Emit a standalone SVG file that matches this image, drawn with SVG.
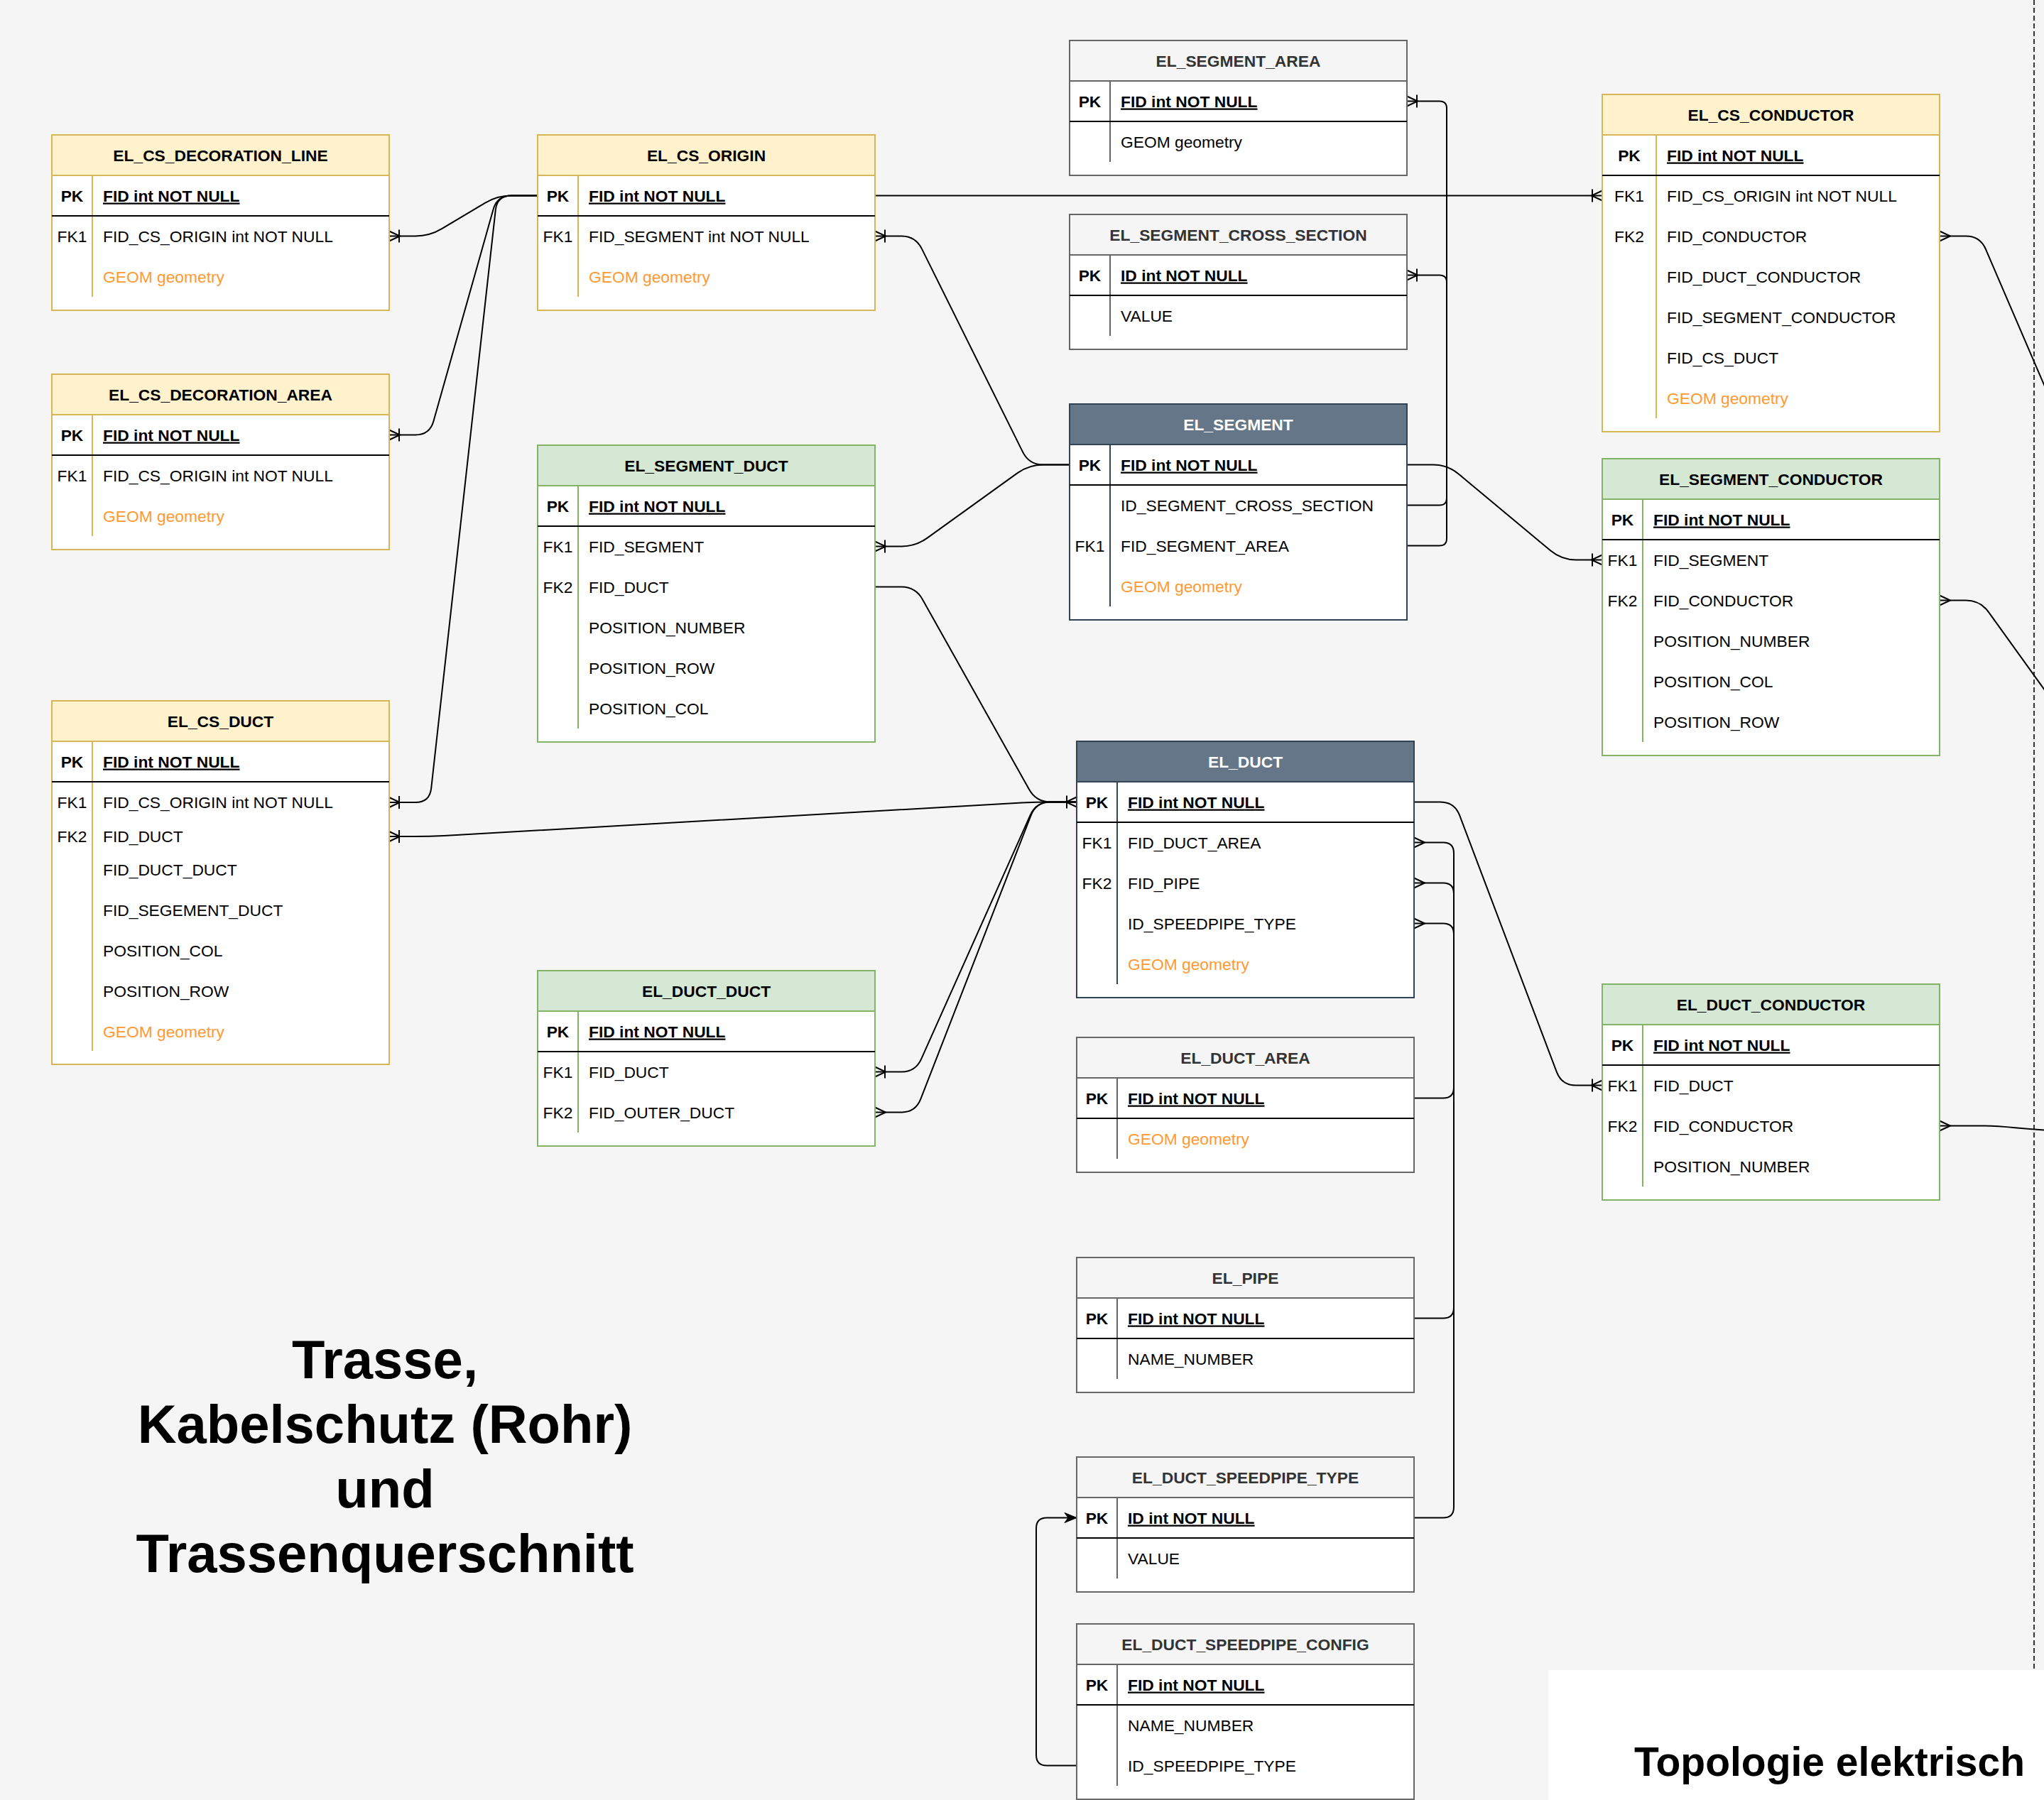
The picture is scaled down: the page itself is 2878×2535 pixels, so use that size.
<svg xmlns="http://www.w3.org/2000/svg" width="2878" height="2535" viewBox="0 0 2878 2535">
<defs>
<style>
text{font-family:"Liberation Sans",Arial,Helvetica,sans-serif;font-size:22.8px;fill:#000}
.frame{fill:#fff;stroke-width:2}
.hd{stroke-width:2}
.dv{stroke-width:2}
.sep{stroke:#000;stroke-width:2}
.y .frame,.y .hd,.y .dv{stroke:#d6b656}.y .hd{fill:#fff2cc}
.g .frame,.g .hd,.g .dv{stroke:#82b366}.g .hd{fill:#d5e8d4}
.s .frame,.s .hd,.s .dv{stroke:#666}.s .hd{fill:#f5f5f5}.s .tt{fill:#333}
.d .frame,.d .hd,.d .dv{stroke:#314354}.d .hd{fill:#647687}.d .tt{fill:#fff}
.tt{font-weight:bold;text-anchor:middle}
.k{text-anchor:middle}
.b{font-weight:bold}
.u{text-decoration:underline}
.o{fill:#FF9933}
.cn{fill:none;stroke:#000;stroke-width:2}
.big{font-weight:bold;font-size:76px;text-anchor:middle}
.topo{font-weight:bold;font-size:57px;text-anchor:middle}
</style>
<marker id="om" markerUnits="userSpaceOnUse" orient="auto-start-reverse" refX="0" refY="0" markerWidth="24" markerHeight="24" overflow="visible"><path d="M0,-7 L-15,0 L0,7 M-14,-9 V9" fill="none" stroke="#000" stroke-width="2"/></marker>
<marker id="mn" markerUnits="userSpaceOnUse" orient="auto-start-reverse" refX="0" refY="0" markerWidth="24" markerHeight="24" overflow="visible"><path d="M0,-7 L-15,0 L0,7" fill="none" stroke="#000" stroke-width="2"/></marker>
<marker id="ar" markerUnits="userSpaceOnUse" orient="auto" refX="0" refY="0" markerWidth="24" markerHeight="24" overflow="visible"><path d="M0,0 L-17,-7 L-12,0 L-17,7 Z" fill="#000" stroke="#000" stroke-width="1"/></marker>
</defs>
<rect x="0" y="0" width="2878" height="2535" fill="#f5f5f5"/>

<g id="page-border">
<line x1="2864" y1="0" x2="2864" y2="2350" stroke="#333" stroke-width="2" stroke-dasharray="7 4"/>
</g>

<g id="connectors">
<path class="cn" marker-start="url(#om)" d="M548,332.5 H585 Q605,332.5 622.1,322.2 L682.9,285.8 Q700,275.5 720,275.5 H757"/>
<path class="cn" marker-start="url(#om)" d="M548,612.5 H585 Q605,612.5 610.4,593.3 L694.6,294.7 Q700,275.5 720,275.5 H757"/>
<path class="cn" marker-start="url(#om)" d="M548,1130 H585 Q605,1130 607.2,1110.1 L697.8,295.4 Q700,275.5 720,275.5 H757"/>
<path class="cn" marker-end="url(#om)" d="M1232,275.5 H2256"/>
<path class="cn" marker-start="url(#om)" d="M1232,332.5 H1269 Q1289,332.5 1297.9,350.4 L1440.1,636.6 Q1449,654.5 1469,654.5 H1506"/>
<path class="cn" marker-start="url(#om)" d="M1232,769.5 H1269 Q1289,769.5 1305.3,757.9 L1432.7,666.1 Q1449,654.5 1469,654.5 H1506"/>
<path class="cn" marker-end="url(#om)" d="M1232,826.5 H1269 Q1289,826.5 1298.8,843.9 L1449.2,1112.1 Q1459,1129.5 1479,1129.5 H1516"/>
<path class="cn" marker-start="url(#om)" d="M548,1178 H585 Q605,1178 625,1177 L1439,1130.5 Q1459,1129.5 1479,1129.5 H1516"/>
<path class="cn" marker-start="url(#om)" d="M1232,1509.5 H1269 Q1289,1509.5 1297.2,1491.3 L1450.8,1147.7 Q1459,1129.5 1479,1129.5 H1516"/>
<path class="cn" marker-start="url(#mn)" d="M1232,1566.5 H1269 Q1289,1566.5 1296.3,1547.9 L1451.7,1148.1 Q1459,1129.5 1479,1129.5 H1516"/>
<path class="cn" marker-end="url(#om)" d="M1981,768.5 H2027 Q2037,768.5 2037,758.5 V152.5 Q2037,142.5 2027,142.5 H1981"/>
<path class="cn" marker-end="url(#om)" d="M1981,711.5 H2027 Q2037,711.5 2037,701.5 V397.5 Q2037,387.5 2027,387.5 H1981"/>
<path class="cn" marker-end="url(#om)" d="M1981,654.5 H2018 Q2038,654.5 2053.4,667.2 L2183.6,775.8 Q2199,788.5 2219,788.5 H2256"/>
<path class="cn" marker-end="url(#om)" d="M1991,1129.5 H2028 Q2048,1129.5 2055.1,1148.2 L2191.9,1509.8 Q2199,1528.5 2219,1528.5 H2256"/>
<path class="cn" marker-end="url(#mn)" d="M1991,1546.5 H2032 Q2047,1546.5 2047,1531.5 V1201.5 Q2047,1186.5 2032,1186.5 H1991"/>
<path class="cn" marker-end="url(#mn)" d="M1991,1856.5 H2032 Q2047,1856.5 2047,1841.5 V1258.5 Q2047,1243.5 2032,1243.5 H1991"/>
<path class="cn" marker-end="url(#mn)" d="M1991,2137.5 H2032 Q2047,2137.5 2047,2122.5 V1315.5 Q2047,1300.5 2032,1300.5 H1991"/>
<path class="cn" marker-end="url(#ar)" d="M1516,2486.5 H1474 Q1459,2486.5 1459,2471.5 V2152.5 Q1459,2137.5 1474,2137.5 H1516"/>
<path class="cn" marker-start="url(#mn)" d="M2731,332.5 H2768 Q2788,332.5 2795.9,350.9 L2900,593"/>
<path class="cn" marker-start="url(#mn)" d="M2731,845.5 H2768 Q2788,845.5 2799.7,861.7 L2900,1001"/>
<path class="cn" marker-start="url(#mn)" d="M2731,1585.5 H2790 C2830,1585.5 2840,1590.5 2900,1592.5"/>
</g>

<g id="EL_CS_DECORATION_LINE" class="y">
<rect class="frame" x="73" y="190" width="475" height="247"/>
<rect class="hd" x="73" y="190" width="475" height="57"/>
<line class="dv" x1="130" y1="247" x2="130" y2="418"/>
<line class="sep" x1="73" y1="304" x2="548" y2="304"/>
<text class="tt" x="310.5" y="226.5">EL_CS_DECORATION_LINE</text>
<text class="k b" x="101.5" y="283.5">PK</text>
<text class="b u" x="145" y="283.5">FID int NOT NULL</text>
<text class="k" x="101.5" y="340.5">FK1</text>
<text x="145" y="340.5">FID_CS_ORIGIN int NOT NULL</text>
<text class="o" x="145" y="397.5">GEOM geometry</text>
</g>

<g id="EL_CS_ORIGIN" class="y">
<rect class="frame" x="757" y="190" width="475" height="247"/>
<rect class="hd" x="757" y="190" width="475" height="57"/>
<line class="dv" x1="814" y1="247" x2="814" y2="418"/>
<line class="sep" x1="757" y1="304" x2="1232" y2="304"/>
<text class="tt" x="994.5" y="226.5">EL_CS_ORIGIN</text>
<text class="k b" x="785.5" y="283.5">PK</text>
<text class="b u" x="829" y="283.5">FID int NOT NULL</text>
<text class="k" x="785.5" y="340.5">FK1</text>
<text x="829" y="340.5">FID_SEGMENT int NOT NULL</text>
<text class="o" x="829" y="397.5">GEOM geometry</text>
</g>

<g id="EL_CS_DECORATION_AREA" class="y">
<rect class="frame" x="73" y="527" width="475" height="247"/>
<rect class="hd" x="73" y="527" width="475" height="57"/>
<line class="dv" x1="130" y1="584" x2="130" y2="755"/>
<line class="sep" x1="73" y1="641" x2="548" y2="641"/>
<text class="tt" x="310.5" y="563.5">EL_CS_DECORATION_AREA</text>
<text class="k b" x="101.5" y="620.5">PK</text>
<text class="b u" x="145" y="620.5">FID int NOT NULL</text>
<text class="k" x="101.5" y="677.5">FK1</text>
<text x="145" y="677.5">FID_CS_ORIGIN int NOT NULL</text>
<text class="o" x="145" y="734.5">GEOM geometry</text>
</g>

<g id="EL_CS_DUCT" class="y">
<rect class="frame" x="73" y="987" width="475" height="512"/>
<rect class="hd" x="73" y="987" width="475" height="57"/>
<line class="dv" x1="130" y1="1044" x2="130" y2="1480"/>
<line class="sep" x1="73" y1="1101" x2="548" y2="1101"/>
<text class="tt" x="310.5" y="1023.5">EL_CS_DUCT</text>
<text class="k b" x="101.5" y="1080.5">PK</text>
<text class="b u" x="145" y="1080.5">FID int NOT NULL</text>
<text class="k" x="101.5" y="1138">FK1</text>
<text x="145" y="1138">FID_CS_ORIGIN int NOT NULL</text>
<text class="k" x="101.5" y="1186">FK2</text>
<text x="145" y="1186">FID_DUCT</text>
<text x="145" y="1233">FID_DUCT_DUCT</text>
<text x="145" y="1290">FID_SEGEMENT_DUCT</text>
<text x="145" y="1347">POSITION_COL</text>
<text x="145" y="1404">POSITION_ROW</text>
<text class="o" x="145" y="1461">GEOM geometry</text>
</g>

<g id="EL_SEGMENT_DUCT" class="g">
<rect class="frame" x="757" y="627" width="475" height="418"/>
<rect class="hd" x="757" y="627" width="475" height="57"/>
<line class="dv" x1="814" y1="684" x2="814" y2="1026"/>
<line class="sep" x1="757" y1="741" x2="1232" y2="741"/>
<text class="tt" x="994.5" y="663.5">EL_SEGMENT_DUCT</text>
<text class="k b" x="785.5" y="720.5">PK</text>
<text class="b u" x="829" y="720.5">FID int NOT NULL</text>
<text class="k" x="785.5" y="777.5">FK1</text>
<text x="829" y="777.5">FID_SEGMENT</text>
<text class="k" x="785.5" y="834.5">FK2</text>
<text x="829" y="834.5">FID_DUCT</text>
<text x="829" y="891.5">POSITION_NUMBER</text>
<text x="829" y="948.5">POSITION_ROW</text>
<text x="829" y="1005.5">POSITION_COL</text>
</g>

<g id="EL_DUCT_DUCT" class="g">
<rect class="frame" x="757" y="1367" width="475" height="247"/>
<rect class="hd" x="757" y="1367" width="475" height="57"/>
<line class="dv" x1="814" y1="1424" x2="814" y2="1595"/>
<line class="sep" x1="757" y1="1481" x2="1232" y2="1481"/>
<text class="tt" x="994.5" y="1403.5">EL_DUCT_DUCT</text>
<text class="k b" x="785.5" y="1460.5">PK</text>
<text class="b u" x="829" y="1460.5">FID int NOT NULL</text>
<text class="k" x="785.5" y="1517.5">FK1</text>
<text x="829" y="1517.5">FID_DUCT</text>
<text class="k" x="785.5" y="1574.5">FK2</text>
<text x="829" y="1574.5">FID_OUTER_DUCT</text>
</g>

<g id="EL_SEGMENT_AREA" class="s">
<rect class="frame" x="1506" y="57" width="475" height="190"/>
<rect class="hd" x="1506" y="57" width="475" height="57"/>
<line class="dv" x1="1563" y1="114" x2="1563" y2="228"/>
<line class="sep" x1="1506" y1="171" x2="1981" y2="171"/>
<text class="tt" x="1743.5" y="93.5">EL_SEGMENT_AREA</text>
<text class="k b" x="1534.5" y="150.5">PK</text>
<text class="b u" x="1578" y="150.5">FID int NOT NULL</text>
<text x="1578" y="207.5">GEOM geometry</text>
</g>

<g id="EL_SEGMENT_CROSS_SECTION" class="s">
<rect class="frame" x="1506" y="302" width="475" height="190"/>
<rect class="hd" x="1506" y="302" width="475" height="57"/>
<line class="dv" x1="1563" y1="359" x2="1563" y2="473"/>
<line class="sep" x1="1506" y1="416" x2="1981" y2="416"/>
<text class="tt" x="1743.5" y="338.5">EL_SEGMENT_CROSS_SECTION</text>
<text class="k b" x="1534.5" y="395.5">PK</text>
<text class="b u" x="1578" y="395.5">ID int NOT NULL</text>
<text x="1578" y="452.5">VALUE</text>
</g>

<g id="EL_SEGMENT" class="d">
<rect class="frame" x="1506" y="569" width="475" height="304"/>
<rect class="hd" x="1506" y="569" width="475" height="57"/>
<line class="dv" x1="1563" y1="626" x2="1563" y2="854"/>
<line class="sep" x1="1506" y1="683" x2="1981" y2="683"/>
<text class="tt" x="1743.5" y="605.5">EL_SEGMENT</text>
<text class="k b" x="1534.5" y="662.5">PK</text>
<text class="b u" x="1578" y="662.5">FID int NOT NULL</text>
<text x="1578" y="719.5">ID_SEGMENT_CROSS_SECTION</text>
<text class="k" x="1534.5" y="776.5">FK1</text>
<text x="1578" y="776.5">FID_SEGMENT_AREA</text>
<text class="o" x="1578" y="833.5">GEOM geometry</text>
</g>

<g id="EL_DUCT" class="d">
<rect class="frame" x="1516" y="1044" width="475" height="361"/>
<rect class="hd" x="1516" y="1044" width="475" height="57"/>
<line class="dv" x1="1573" y1="1101" x2="1573" y2="1386"/>
<line class="sep" x1="1516" y1="1158" x2="1991" y2="1158"/>
<text class="tt" x="1753.5" y="1080.5">EL_DUCT</text>
<text class="k b" x="1544.5" y="1137.5">PK</text>
<text class="b u" x="1588" y="1137.5">FID int NOT NULL</text>
<text class="k" x="1544.5" y="1194.5">FK1</text>
<text x="1588" y="1194.5">FID_DUCT_AREA</text>
<text class="k" x="1544.5" y="1251.5">FK2</text>
<text x="1588" y="1251.5">FID_PIPE</text>
<text x="1588" y="1308.5">ID_SPEEDPIPE_TYPE</text>
<text class="o" x="1588" y="1365.5">GEOM geometry</text>
</g>

<g id="EL_DUCT_AREA" class="s">
<rect class="frame" x="1516" y="1461" width="475" height="190"/>
<rect class="hd" x="1516" y="1461" width="475" height="57"/>
<line class="dv" x1="1573" y1="1518" x2="1573" y2="1632"/>
<line class="sep" x1="1516" y1="1575" x2="1991" y2="1575"/>
<text class="tt" x="1753.5" y="1497.5">EL_DUCT_AREA</text>
<text class="k b" x="1544.5" y="1554.5">PK</text>
<text class="b u" x="1588" y="1554.5">FID int NOT NULL</text>
<text class="o" x="1588" y="1611.5">GEOM geometry</text>
</g>

<g id="EL_PIPE" class="s">
<rect class="frame" x="1516" y="1771" width="475" height="190"/>
<rect class="hd" x="1516" y="1771" width="475" height="57"/>
<line class="dv" x1="1573" y1="1828" x2="1573" y2="1942"/>
<line class="sep" x1="1516" y1="1885" x2="1991" y2="1885"/>
<text class="tt" x="1753.5" y="1807.5">EL_PIPE</text>
<text class="k b" x="1544.5" y="1864.5">PK</text>
<text class="b u" x="1588" y="1864.5">FID int NOT NULL</text>
<text x="1588" y="1921.5">NAME_NUMBER</text>
</g>

<g id="EL_DUCT_SPEEDPIPE_TYPE" class="s">
<rect class="frame" x="1516" y="2052" width="475" height="190"/>
<rect class="hd" x="1516" y="2052" width="475" height="57"/>
<line class="dv" x1="1573" y1="2109" x2="1573" y2="2223"/>
<line class="sep" x1="1516" y1="2166" x2="1991" y2="2166"/>
<text class="tt" x="1753.5" y="2088.5">EL_DUCT_SPEEDPIPE_TYPE</text>
<text class="k b" x="1544.5" y="2145.5">PK</text>
<text class="b u" x="1588" y="2145.5">ID int NOT NULL</text>
<text x="1588" y="2202.5">VALUE</text>
</g>

<g id="EL_DUCT_SPEEDPIPE_CONFIG" class="s">
<rect class="frame" x="1516" y="2287" width="475" height="247"/>
<rect class="hd" x="1516" y="2287" width="475" height="57"/>
<line class="dv" x1="1573" y1="2344" x2="1573" y2="2515"/>
<line class="sep" x1="1516" y1="2401" x2="1991" y2="2401"/>
<text class="tt" x="1753.5" y="2323.5">EL_DUCT_SPEEDPIPE_CONFIG</text>
<text class="k b" x="1544.5" y="2380.5">PK</text>
<text class="b u" x="1588" y="2380.5">FID int NOT NULL</text>
<text x="1588" y="2437.5">NAME_NUMBER</text>
<text x="1588" y="2494.5">ID_SPEEDPIPE_TYPE</text>
</g>

<g id="EL_CS_CONDUCTOR" class="y">
<rect class="frame" x="2256" y="133" width="475" height="475"/>
<rect class="hd" x="2256" y="133" width="475" height="57"/>
<line class="dv" x1="2332" y1="190" x2="2332" y2="589"/>
<line class="sep" x1="2256" y1="247" x2="2731" y2="247"/>
<text class="tt" x="2493.5" y="169.5">EL_CS_CONDUCTOR</text>
<text class="k b" x="2294" y="226.5">PK</text>
<text class="b u" x="2347" y="226.5">FID int NOT NULL</text>
<text class="k" x="2294" y="283.5">FK1</text>
<text x="2347" y="283.5">FID_CS_ORIGIN int NOT NULL</text>
<text class="k" x="2294" y="340.5">FK2</text>
<text x="2347" y="340.5">FID_CONDUCTOR</text>
<text x="2347" y="397.5">FID_DUCT_CONDUCTOR</text>
<text x="2347" y="454.5">FID_SEGMENT_CONDUCTOR</text>
<text x="2347" y="511.5">FID_CS_DUCT</text>
<text class="o" x="2347" y="568.5">GEOM geometry</text>
</g>

<g id="EL_SEGMENT_CONDUCTOR" class="g">
<rect class="frame" x="2256" y="646" width="475" height="418"/>
<rect class="hd" x="2256" y="646" width="475" height="57"/>
<line class="dv" x1="2313" y1="703" x2="2313" y2="1045"/>
<line class="sep" x1="2256" y1="760" x2="2731" y2="760"/>
<text class="tt" x="2493.5" y="682.5">EL_SEGMENT_CONDUCTOR</text>
<text class="k b" x="2284.5" y="739.5">PK</text>
<text class="b u" x="2328" y="739.5">FID int NOT NULL</text>
<text class="k" x="2284.5" y="796.5">FK1</text>
<text x="2328" y="796.5">FID_SEGMENT</text>
<text class="k" x="2284.5" y="853.5">FK2</text>
<text x="2328" y="853.5">FID_CONDUCTOR</text>
<text x="2328" y="910.5">POSITION_NUMBER</text>
<text x="2328" y="967.5">POSITION_COL</text>
<text x="2328" y="1024.5">POSITION_ROW</text>
</g>

<g id="EL_DUCT_CONDUCTOR" class="g">
<rect class="frame" x="2256" y="1386" width="475" height="304"/>
<rect class="hd" x="2256" y="1386" width="475" height="57"/>
<line class="dv" x1="2313" y1="1443" x2="2313" y2="1671"/>
<line class="sep" x1="2256" y1="1500" x2="2731" y2="1500"/>
<text class="tt" x="2493.5" y="1422.5">EL_DUCT_CONDUCTOR</text>
<text class="k b" x="2284.5" y="1479.5">PK</text>
<text class="b u" x="2328" y="1479.5">FID int NOT NULL</text>
<text class="k" x="2284.5" y="1536.5">FK1</text>
<text x="2328" y="1536.5">FID_DUCT</text>
<text class="k" x="2284.5" y="1593.5">FK2</text>
<text x="2328" y="1593.5">FID_CONDUCTOR</text>
<text x="2328" y="1650.5">POSITION_NUMBER</text>
</g>

<g id="title">
<text class="big" x="542" y="1941">Trasse,</text>
<text class="big" x="542" y="2032">Kabelschutz (Rohr)</text>
<text class="big" x="542" y="2123">und</text>
<text class="big" x="542" y="2214">Trassenquerschnitt</text>
</g>

<g id="page-label">
<rect x="2180" y="2352" width="698" height="183" fill="#fff"/>
<text class="topo" x="2576" y="2501">Topologie elektrisch</text>
</g>
</svg>
